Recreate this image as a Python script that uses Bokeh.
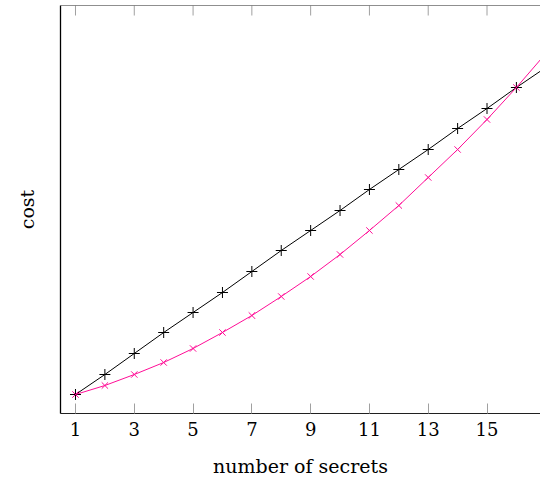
from bokeh.plotting import figure
from bokeh.models import Range1d, LinearAxis, FixedTicker, Span
from bokeh.embed import file_html
from bokeh.resources import INLINE

# Data (cost in arbitrary units)
secrets = [1, 2, 3, 4, 5, 6, 7, 8, 9, 10, 11, 12, 13, 14, 15, 16, 17]
cost_linear = [19, 39, 60, 81, 101, 121, 142, 163, 183, 203, 224, 244, 264, 285, 305, 326, 346]
cost_curve = [19, 28, 39, 51, 65, 81, 98, 117, 137, 159, 183, 208, 236, 264, 294, 326, 360]
x_ticks = [1, 3, 5, 7, 9, 11, 13, 15]

BLACK = "#000000"
PINK = "#ff0d96"
FONT = "DejaVu Serif"
Y_TOP = 408
TICK_LEN = 10

p = figure(width=540, height=481, output_backend="svg", toolbar_location=None,
           x_range=Range1d(0.49, 16.82), y_range=Range1d(0, Y_TOP),
           x_axis_location=None, y_axis_location=None,
           min_border_left=60, min_border_right=0, min_border_top=5, min_border_bottom=68)
p.outline_line_color = None
p.grid.visible = False
p.background_fill_color = "white"
p.border_fill_color = "white"

# bottom axis
xb = LinearAxis(ticker=FixedTicker(ticks=x_ticks), axis_label="number of secrets")
xb.major_tick_in = TICK_LEN
xb.major_tick_out = 0
xb.minor_tick_line_color = None
xb.major_tick_line_color = "#a0a0a0"
xb.axis_line_color = "#202020"
xb.major_label_text_font = FONT
xb.major_label_text_font_size = "18px"
xb.major_label_text_color = BLACK
xb.major_label_standoff = 8
xb.axis_label_text_font = FONT
xb.axis_label_text_font_size = "19px"
xb.axis_label_text_color = BLACK
xb.axis_label_text_font_style = "normal"
xb.axis_label_standoff = 16
p.add_layout(xb, "below")

# left axis (no ticks)
yl = LinearAxis(ticker=FixedTicker(ticks=[]), axis_label="cost")
yl.major_tick_line_color = None
yl.minor_tick_line_color = None
yl.major_label_standoff = 0
yl.axis_line_color = "#000000"
yl.axis_line_width = 1.3
yl.axis_label_text_font = FONT
yl.axis_label_text_font_size = "19px"
yl.axis_label_text_color = BLACK
yl.axis_label_text_font_style = "normal"
yl.axis_label_standoff = 23
p.add_layout(yl, "left")

# top frame line with inward ticks
p.add_layout(Span(location=Y_TOP, dimension="width", line_color="#202020", line_width=1))
p.segment(x0=x_ticks, y0=[Y_TOP] * len(x_ticks), x1=x_ticks, y1=[Y_TOP - TICK_LEN] * len(x_ticks),
          line_color="#a0a0a0", line_width=1)

p.line(secrets, cost_linear, line_color=BLACK, line_width=1)
p.scatter(secrets, cost_linear, marker="cross", size=11, line_color=BLACK, line_width=1)
p.line(secrets, cost_curve, line_color=PINK, line_width=1)
p.scatter(secrets, cost_curve, marker="x", size=9, line_color=PINK, line_width=1)

open("out.html", "w").write(file_html(p, INLINE))
